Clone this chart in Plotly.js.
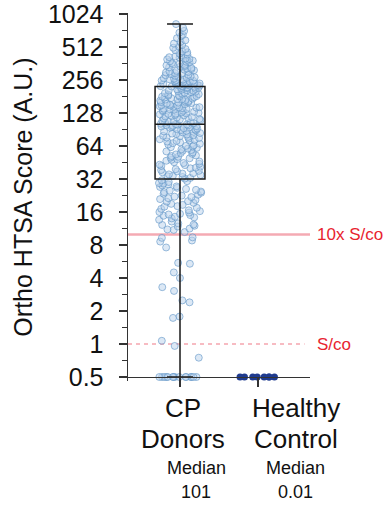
<!DOCTYPE html>
<html>
<head>
<meta charset="utf-8">
<script src="https://cdn.plot.ly/plotly-3.0.1.min.js"></script>
<style>html,body{margin:0;padding:0;background:#fff}#chart{width:385px;height:505px}</style>
</head>
<body>
<div id="chart"></div>
<script>
// ---- data ----
const categories = ["CP<br>Donors", "Healthy<br>Control"];
const medianLabels = ["101", "0.01"];

// CP donor scores (values below the detection floor plotted at 0.5)
const cpDonorScores = [
  0.5, 0.5, 0.5, 0.5, 0.5, 0.5, 0.5, 0.5, 0.5, 0.5, 0.5, 0.5, 0.5, 0.5, 0.5,
  0.75, 0.96, 1.07, 1.73, 1.78, 2.4, 2.5, 3.05, 3.3, 4.0, 4.5, 5.4, 5.5, 7.6, 8.6, 8.8, 9.3, 9.4,
  10.5, 11.0, 11.1, 11.3, 11.8, 12.0, 12.2, 12.3, 12.6, 13.1, 13.6, 14.0, 14.3, 14.5, 14.8, 15.0, 15.2, 15.4,
  15.8, 16.0, 16.3, 16.6, 17.1, 17.5, 17.9, 18.1, 18.6, 19.0, 19.4, 19.9, 20.1, 20.6, 21.0, 21.4, 21.9, 22.1,
  22.6, 23.0, 23.5, 24.0, 24.3, 24.6, 25.1, 25.5, 26.0, 26.6, 27.1, 27.4, 28.0, 28.6, 29.1, 29.4, 30.1, 30.6, 31.2,
  32.3, 32.8, 33.4, 33.9, 34.1, 34.8, 35.3, 35.9, 36.2, 36.9, 37.6, 38.0, 38.7, 39.4, 40.1, 40.6, 41.5, 42.2,
  42.9, 43.3, 44.1, 44.8, 45.6, 46.3, 47.0, 47.9, 48.6, 49.5, 50.2, 51.1, 51.9, 52.6, 53.7, 54.4, 55.3, 56.1,
  57.2, 58.0, 58.9, 59.8, 60.7, 61.6, 62.5, 63.4, 64.2, 65.1, 66.3, 67.2, 68.0, 69.1, 70.3, 71.2, 72.0, 72.9,
  73.8, 74.9, 75.8, 76.7, 77.5, 78.6, 79.4, 80.3, 81.5, 82.4, 83.2, 84.1, 85.3, 86.2, 87.0, 87.9, 88.8, 89.7,
  90.6, 91.5, 92.4, 93.1, 94.0, 94.9, 95.8, 96.6, 97.3, 98.1, 98.9, 99.6, 100.2, 100.8,
  101.4, 102.3, 103.5, 104.6, 105.8, 106.9, 108.1, 109.2, 110.5, 111.6, 112.9, 114.1, 115.4, 116.6, 117.9,
  119.2, 120.4, 121.8, 123.1, 124.5, 125.8, 126.5, 127.2, 128.6, 130.1, 131.5, 132.9, 134.4, 135.8, 137.3,
  138.8, 139.5, 140.2, 141.8, 143.3, 144.2, 144.9, 146.4, 148.0, 149.6, 150.4, 151.2, 152.8, 154.4, 156.1,
  157.7, 159.4, 160.2, 161.1, 162.8, 164.5, 166.3, 168.0, 169.8, 170.7, 171.6, 173.4, 175.2, 177.1, 178.9,
  180.8, 181.9, 182.7, 184.6, 186.5, 188.5, 190.4, 192.4, 193.6, 194.4, 196.4, 198.5, 200.5, 202.6, 204.7,
  205.3, 206.8, 208.9, 211.1, 213.2, 215.4, 216.9, 217.6, 219.8, 222.0, 223.6,
  224.5, 225.3, 226.1, 227.2, 228.4, 229.0, 230.3, 231.5, 233.2, 234.1, 235.6, 236.8, 238.5, 239.7, 241.2,
  243.0, 244.8, 246.5, 248.3, 249.9, 252.1, 254.0, 256.2, 258.4, 260.7, 263.5, 265.9, 268.8, 271.4, 274.6,
  277.3, 280.5, 283.8, 286.4, 289.9, 293.1, 296.7, 300.2, 303.8, 306.5, 310.9, 314.6, 318.3, 322.1, 326.8,
  330.5, 334.9, 339.2, 343.7, 348.4, 352.1, 357.3, 361.8, 366.2, 371.4, 376.9, 380.2, 385.5, 390.8, 395.7, 398.9,
  402.6, 408.3, 413.9, 420.7, 428.5, 437.9, 446.6, 458.8, 467.5, 480.6, 491.3, 504.8, 519.6, 535.7, 551.9,
  570.8, 589.6, 617.5, 644.8, 661.9, 693.7, 719.6, 767.8, 830.0
];
const healthyControlScores = [0.5, 0.5, 0.5, 0.5, 0.5, 0.5, 0.5, 0.5];

// CP donor box summary (min-max whiskers)
const boxQ1 = [32];
const boxMedian = [101];
const boxQ3 = [224];
const boxLower = [0.5];
const boxUpper = [830];

const yTickVals = [0.5, 1, 2, 4, 8, 16, 32, 64, 128, 256, 512, 1024];
const yTickText = ["0.5", "1", "2", "4", "8", "16", "32", "64", "128", "256", "512", "1024"];
const thresholds = [10, 1];
const thresholdLabels = ["10x S/co", "S/co"];

// ---- chart ----
const minorVals = [];
for (let i = 0; i < yTickVals.length - 1; i++) minorVals.push(Math.sqrt(yTickVals[i] * yTickVals[i + 1]));

const boxWidth = 0.64;
const traces = [
  {
    type: 'box', x0: 0, y: cpDonorScores, boxpoints: 'all', jitter: 0.85, pointpos: 0,
    width: boxWidth, fillcolor: 'rgba(0,0,0,0)', line: {width: 0, color: 'rgba(0,0,0,0)'},
    marker: {size: 7, color: 'rgba(185,210,236,0.5)', line: {color: 'rgba(95,148,198,0.6)', width: 1}},
    hoverinfo: 'skip', showlegend: false
  },
  {
    type: 'box', x0: 1, y: healthyControlScores, boxpoints: 'all', jitter: 0.85, pointpos: 0,
    width: boxWidth, fillcolor: 'rgba(0,0,0,0)', line: {width: 0, color: 'rgba(0,0,0,0)'},
    marker: {size: 7, color: '#1f3b8f', line: {width: 0}},
    hoverinfo: 'skip', showlegend: false
  },
  {
    type: 'box', x: [0], q1: boxQ1, median: boxMedian, q3: boxQ3,
    lowerfence: boxLower, upperfence: boxUpper, boxpoints: false,
    width: boxWidth, whiskerwidth: 0.52, fillcolor: 'rgba(0,0,0,0)',
    line: {color: '#1a1a1a', width: 1.5}, hoverinfo: 'skip', showlegend: false
  }
];

const annotations = [];
thresholds.forEach((t, i) => {
  annotations.push({
    xref: 'paper', x: 1.03, xanchor: 'left', yref: 'y', y: Math.log10(t), yanchor: 'middle',
    text: thresholdLabels[i], showarrow: false, font: {size: 17, color: '#e8242f'}
  });
});
// category labels (two lines each) and median notes below the axis
const labelShift = [3, 38];
const medianShift = [16, 38];
categories.forEach((c, i) => {
  const lines = c.split('<br>');
  annotations.push({xref: 'x', x: i, xshift: labelShift[i], yref: 'paper', y: -0.0734, yanchor: 'middle',
    text: lines[0], showarrow: false, font: {size: 26, color: '#111'}});
  annotations.push({xref: 'x', x: i, xshift: labelShift[i], yref: 'paper', y: -0.1563, yanchor: 'middle',
    text: lines[1], showarrow: false, font: {size: 26, color: '#111'}});
});
medianLabels.forEach((m, i) => {
  annotations.push({xref: 'x', x: i, xshift: medianShift[i], yref: 'paper', y: -0.2351, yanchor: 'middle',
    text: 'Median', showarrow: false, font: {size: 18, color: '#111'}});
  annotations.push({xref: 'x', x: i, xshift: medianShift[i], yref: 'paper', y: -0.3003, yanchor: 'middle',
    text: m, showarrow: false, font: {size: 18, color: '#111'}});
});

const shapes = [
  {type: 'line', xref: 'paper', x0: 0, x1: 1, yref: 'y', y0: thresholds[0], y1: thresholds[0],
   line: {color: 'rgba(243,165,175,0.95)', width: 2.5}, layer: 'below'},
  {type: 'line', xref: 'paper', x0: 0, x1: 0.97, yref: 'y', y0: thresholds[1], y1: thresholds[1],
   line: {color: 'rgba(243,160,170,0.95)', width: 1.3, dash: '4px,4px'}, layer: 'below'}
];

const layout = {
  width: 385, height: 505,
  margin: {l: 128, r: 75, t: 13, b: 124, pad: 0},
  paper_bgcolor: '#fff', plot_bgcolor: '#fff',
  font: {family: 'Liberation Sans, Arial, sans-serif', color: '#111'},
  showlegend: false, boxmode: 'overlay',
  xaxis: {
    type: 'linear', range: [-0.667, 1.667], tickvals: [0, 1], showticklabels: false,
    ticks: 'outside', ticklen: 9, tickwidth: 1.5, tickcolor: '#333',
    showline: true, linecolor: '#333', linewidth: 1.5, showgrid: false, zeroline: false,
    anchor: 'free', position: 0.0109, automargin: false
  },
  yaxis: {
    type: 'log', range: [Math.log10(0.5) - 0.0365, Math.log10(1024) + 0.01],
    tickvals: yTickVals, ticktext: yTickText, ticklabeloverflow: 'allow',
    ticks: 'outside', ticklen: 8, tickwidth: 1.5, tickcolor: '#333',
    showline: true, linecolor: '#333', linewidth: 1.5, showgrid: false, zeroline: false,
    tickfont: {size: 25, color: '#111'}, ticklabelstandoff: 10,
    minor: {tickvals: minorVals, ticks: 'outside', ticklen: 5, tickwidth: 1.5, tickcolor: '#333', showgrid: false},
    title: {text: 'Ortho HTSA Score (A.U.)', font: {size: 25, color: '#111'}, standoff: 8},
    automargin: false
  },
  annotations: annotations,
  shapes: shapes
};

Plotly.newPlot('chart', traces, layout, {staticPlot: true, displayModeBar: false});
</script>
</body>
</html>
